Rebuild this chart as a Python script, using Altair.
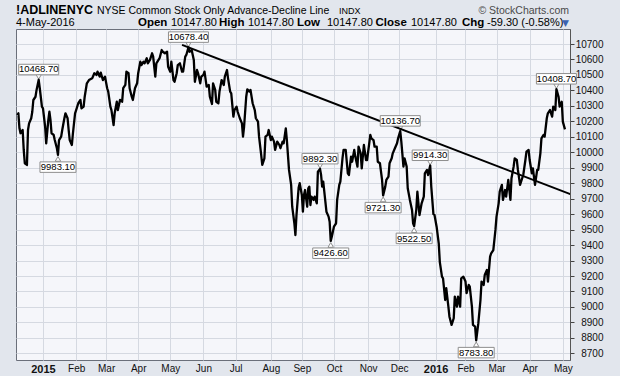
import altair as alt
import pandas as pd

# ---------------- data ----------------
BASE_DATE = "2015-01-01"  # day offsets below are counted from this date

days = [
    -23, -22, -21, -20, -18, -17, -16, -14, -13, -12,
    -10, -9, -8, -6, -5, -3, -2, 0, 1, 3,
    4, 6, 7, 8, 9, 11, 12, 14, 15, 16,
    18, 19, 21, 22, 24, 25, 26, 28, 29, 31,
    32, 34, 36, 37, 39, 40, 42, 44, 47, 49,
    51, 52, 54, 55, 57, 59, 61, 62, 64, 65,
    67, 68, 70, 71, 73, 75, 76, 78, 79, 81,
    82, 84, 85, 87, 89, 90, 92, 93, 95, 96,
    98, 99, 101, 103, 104, 106, 107, 109,
    110, 112, 113, 115, 117, 118, 120, 121, 123, 124,
    126, 127, 129, 131, 132, 134, 135, 137, 138, 140,
    142, 143, 145, 146, 148, 149, 151, 152, 154, 156,
    157, 159, 160, 162, 163, 165, 166, 168, 170, 171,
    173, 174, 176, 177, 179, 180, 182, 183, 185, 187,
    188, 189, 191, 192, 194, 195, 197, 199, 200, 202,
    203, 205, 206, 208, 209, 211, 212, 214, 215, 217,
    218, 220, 222, 223, 225, 226, 228, 229,
    231, 233, 234, 236, 237, 238, 240, 241,
    243, 244, 245, 246, 248, 249, 250, 251, 252, 254,
    255, 257, 258, 260, 261, 262, 263, 265, 266, 268,
    269, 270, 271, 273, 275, 276, 278, 279, 281, 282,
    284, 286, 287, 289, 290, 292, 293, 295, 296, 298,
    299, 301, 303, 304, 306, 307, 308, 310, 311, 313,
    314, 316, 318, 319, 321, 322, 324, 325, 327, 328,
    330, 332, 333, 335, 336, 338, 339, 341, 342, 344,
    346, 347, 348, 350, 351, 352, 353, 355, 357, 358,
    360, 361, 363, 364, 366, 367, 369, 371, 372,
    374, 375, 377, 378, 380, 381, 383, 385, 386, 388,
    389, 391, 392, 394, 396, 397, 399, 400, 402, 403,
    405, 406, 408, 410, 411, 413, 414, 416, 417, 419,
    420, 422, 424, 425, 427, 428, 430, 431, 433, 434,
    436, 438, 439, 441, 442, 444, 445, 447, 449, 450,
    452, 453, 455, 456, 458, 459, 461, 463, 464, 466,
    467, 469, 470, 472, 473, 475, 477, 478, 480, 481,
    483, 484, 486, 487, 489,
]

values = [
    10241, 10252, 10155, 10123, 10144, 10015, 9929, 9918, 10144, 10187,
    10220, 10262, 10338, 10359, 10403, 10468.7, 10414, 10295, 10284, 10165,
    10058, 10209, 10262, 10209, 10123, 10112, 10079, 10026, 9983.1, 10079,
    10101, 10144, 10220, 10252, 10220, 10144, 10079, 10047, 10123, 10252,
    10273, 10317, 10338, 10284, 10295, 10359, 10446, 10467, 10478, 10511,
    10500, 10521, 10489, 10515, 10467, 10489, 10414, 10392, 10295, 10273,
    10176, 10252, 10327, 10273, 10338, 10327, 10414, 10435, 10521, 10511,
    10414, 10359, 10338, 10414, 10446, 10511, 10586, 10564, 10586, 10575,
    10608, 10575, 10597, 10640, 10618, 10489, 10575, 10597,
    10608, 10661, 10650, 10640, 10650, 10553, 10521, 10586, 10467, 10456,
    10511, 10564, 10575, 10521, 10521, 10618, 10629, 10678.4, 10650, 10661,
    10597, 10456, 10532, 10511, 10446, 10489, 10500, 10521, 10424, 10435,
    10359, 10312, 10446, 10403, 10327, 10317, 10392, 10467, 10435, 10489,
    10532, 10478, 10392, 10381, 10230, 10273, 10295, 10262, 10220, 10187,
    10101, 10165, 10359, 10407, 10392, 10403, 10317, 10273, 10220, 10198,
    10101, 9983, 9918, 9961, 10101, 10112, 10144, 10079, 10101, 10069,
    10015, 10069, 10047, 10026, 10069, 10058, 10155, 10079,
    9886, 9789, 9648, 9541, 9465, 9595, 9770, 9800,
    9724, 9616, 9724, 9756, 9648, 9767, 9778, 9659, 9713, 9692,
    9713, 9670, 9875, 9892.3, 9853, 9778, 9810, 9681, 9616, 9584,
    9551, 9426.6, 9454, 9519, 9541, 9692, 9789, 9810, 9961, 10015,
    10015, 9864, 9853, 9972, 9939, 10015, 9972, 9907, 10036, 9993,
    9896, 10047, 9950, 9950, 10058, 10112, 10090, 10079, 10036, 10036,
    9939, 9929, 9821, 9721.3, 9778, 9821, 9843, 9929, 9961, 9993,
    10026, 10058, 10090, 10136.7, 10069, 9907, 9961, 9907, 9767, 9692,
    9627, 9541, 9522.5, 9627, 9745, 9670, 9594, 9670, 9713, 9864,
    9886, 9853, 9914.3, 9778, 9600, 9595, 9519, 9410, 9290,
    9196, 9185, 9045, 9121, 9002, 8937, 8884, 8927, 9067, 9002,
    9067, 9002, 9185, 9196, 9164, 9089, 9142, 9131, 9002, 8884,
    8873, 8783.8, 8895, 9045, 9164, 9142, 9207, 9239, 9164, 9325,
    9347, 9368, 9498, 9584, 9670, 9745, 9789, 9692, 9756, 9713,
    9821, 9692, 9832, 9907, 9961, 9950, 9886, 9789, 9832, 9853,
    9950, 10004, 10015, 9950, 9864, 9896, 9789, 9886, 9886, 9993,
    10090, 10112, 10101, 10220, 10252, 10273, 10230, 10295, 10273, 10408.7,
    10359, 10295, 10327, 10198, 10147.8,
]

ann_days = [-3, 15, 137, 260, 270, 319, 335, 348, 363, 406, 481]
ann_values = [10468.70, 9983.10, 10678.40, 9892.30, 9426.60, 9721.30,
              10136.70, 9522.50, 9914.30, 8783.80, 10408.70]
ann_side = ["above", "below", "above", "above", "below", "below",
            "above", "below", "above", "below", "above"]

trend_days = [131, 494]
trend_values = [10694, 9729]

y_ticks = list(range(8700, 10701, 100))
x_tick_dates = ["2015-01-02", "2015-02-02", "2015-03-02", "2015-04-01",
                "2015-05-01", "2015-06-01", "2015-07-01", "2015-08-03",
                "2015-09-01", "2015-10-01", "2015-11-02", "2015-12-01",
                "2016-01-04", "2016-02-01", "2016-03-01", "2016-04-01",
                "2016-05-02"]

header_symbol = "!ADLINENYC"
header_name = "NYSE Common Stock Only Advance-Decline Line"
header_exchange = "INDX"
header_brand = "\u00a9 StockCharts.com"
header_date = "4-May-2016"
header_quote = [("Open", "10147.80"), ("High", "10147.80"), ("Low", "10147.80"),
                ("Close", "10147.80"), ("Chg", "-59.30 (-0.58%)")]

# ---------------- tables ----------------
base = pd.Timestamp(BASE_DATE)


def to_dates(offsets):
    return [(base + pd.Timedelta(days=d)).strftime("%Y-%m-%d") for d in offsets]


df = pd.DataFrame({"date": to_dates(days), "value": values})
ann_df = pd.DataFrame({"date": to_dates(ann_days), "value": ann_values,
                       "side": ann_side,
                       "label": [f"{v:.2f}" for v in ann_values]})
trend_df = pd.DataFrame({"date": to_dates(trend_days), "value": trend_values})

FONT = "Liberation Sans"
GRID = "#d5d9e1"

tick_dt = []
for s in x_tick_dates:
    yy, mm, dd = (int(p) for p in s.split("-"))
    tick_dt.append(alt.DateTime(year=yy, month=mm, date=dd, utc=True))

x_enc = alt.X(
    "date:T",
    scale=alt.Scale(type="utc", domain=[
        alt.DateTime(year=2014, month=12, date=7, hours=18, minutes=30, utc=True),
        alt.DateTime(year=2016, month=5, date=8, hours=16, minutes=48, utc=True)]),
    axis=alt.Axis(
        values=tick_dt,
        labelExpr="utcmonth(datum.value) == 0 ? utcFormat(datum.value, '%Y') : utcFormat(datum.value, '%b')",
        labelFontWeight={"condition": {"test": "utcmonth(datum.value) == 0", "value": "bold"}, "value": "normal"},
        labelFontSize={"condition": {"test": "utcmonth(datum.value) == 0", "value": 11}, "value": 10},
        labelFont=FONT, labelColor="#111", labelPadding=3,
        labelFlush=False, labelOverlap=False,
        grid=True, gridColor=GRID, ticks=False, domain=False, title=None),
)
y_enc = alt.Y(
    "value:Q",
    scale=alt.Scale(domain=[8657, 10797], nice=False, zero=False),
    axis=alt.Axis(
        orient="right", values=y_ticks, format="d",
        grid=True, gridColor=GRID, tickSize=4, tickColor="#444",
        domainColor="#555", labelFont=FONT, labelFontSize=10,
        labelColor="#111", labelAlign="right", labelPadding=29, title=None),
)

line = alt.Chart(df).mark_line(color="black", strokeWidth=2.3, strokeJoin="round").encode(x=x_enc, y=y_enc)
trend = alt.Chart(trend_df).mark_line(color="black", strokeWidth=2, clip=True).encode(x=x_enc, y=y_enc)

ann = alt.Chart(ann_df)
BOX = dict(fill="white", stroke="#8f8f8f", strokeWidth=1)

box_above_long = ann.transform_filter(
    "datum.side == 'above' && length(datum.label) > 7"
).mark_rect(xOffset=-20, x2Offset=20, yOffset=-15.5, y2Offset=-5, **BOX).encode(
    x=x_enc, x2="date:T", y=y_enc, y2="value:Q")
box_above_short = ann.transform_filter(
    "datum.side == 'above' && length(datum.label) <= 7"
).mark_rect(xOffset=-18, x2Offset=18, yOffset=-15.5, y2Offset=-5, **BOX).encode(
    x=x_enc, x2="date:T", y=y_enc, y2="value:Q")
box_below = ann.transform_filter(
    "datum.side == 'below'"
).mark_rect(xOffset=-18, x2Offset=18, yOffset=7, y2Offset=17.5, **BOX).encode(
    x=x_enc, x2="date:T", y=y_enc, y2="value:Q")

caret_above = ann.transform_filter("datum.side == 'above'").mark_point(
    shape="triangle-down", size=30, fill="white", stroke="#8f8f8f", strokeWidth=1,
    opacity=1, yOffset=-3).encode(x=x_enc, y=y_enc)
caret_below = ann.transform_filter("datum.side == 'below'").mark_point(
    shape="triangle-up", size=30, fill="white", stroke="#8f8f8f", strokeWidth=1,
    opacity=1, yOffset=4).encode(x=x_enc, y=y_enc)

text_above = ann.transform_filter("datum.side == 'above'").mark_text(
    dy=-10.3, fontSize=9.5, font=FONT, color="black", baseline="middle").encode(
    x=x_enc, y=y_enc, text="label:N")
text_below = ann.transform_filter("datum.side == 'below'").mark_text(
    dy=12.4, fontSize=9.5, font=FONT, color="black", baseline="middle").encode(
    x=x_enc, y=y_enc, text="label:N")


def htext(txt, x, y, size, weight="normal", color="#000", align="left", font=FONT):
    return alt.Chart(alt.Data(values=[{"t": txt}])).mark_text(
        align=align, baseline="alphabetic", fontSize=size, fontWeight=weight,
        color=color, font=font).encode(text="t:N", x=alt.value(x), y=alt.value(y))


headers = [
    htext(header_symbol, 0, -15, 12.5, "bold"),
    htext(header_name, 81, -15, 10.5),
    htext(header_exchange, 323, -15, 9),
    htext(header_brand, 553, -15, 10.5, color="#4a4a4a", align="right"),
    htext(header_date, 0, -3, 11),
]
quote_x = [(122, 155), (203, 232), (281, 311), (359.5, 395), (446, 471)]
for (lab, val), (lx, vx) in zip(header_quote, quote_x):
    headers.append(htext(lab, lx, -3, 11.5, "bold"))
    headers.append(htext(val, vx, -3, 11))
headers.append(htext("\u25bc", 546, -3, 9, color="#3b62b0", font="DejaVu Sans"))

chart = alt.layer(
    caret_above, caret_below, line, trend,
    box_above_long, box_above_short, box_below,
    text_above, text_below, *headers,
).properties(
    width=554, height=331,
    autosize=alt.AutoSizeParams(type="none"),
    padding={"left": 16, "top": 29, "right": 50, "bottom": 16},
    background="#e2e6ed",
).configure_view(fill="#f5f6fa", stroke="#6a6f7a", strokeWidth=1)

chart.save("out.html", embed_options={"renderer": "svg", "actions": False})
